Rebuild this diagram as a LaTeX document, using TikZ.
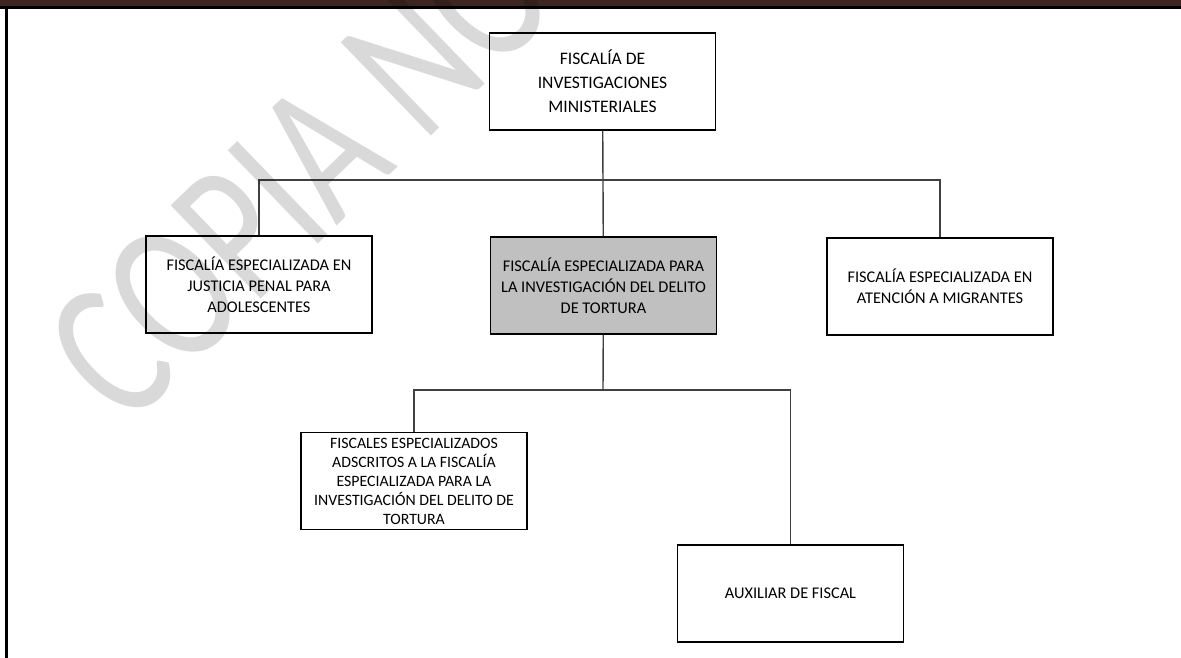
\documentclass[tikz,border=0pt]{standalone}
\usepackage{fontspec}
\setmainfont{Carlito}
\usetikzlibrary{positioning}
\definecolor{BarBrown}{RGB}{61,38,32}
\definecolor{BoxGray}{RGB}{192,192,192}
\definecolor{LineGray}{RGB}{64,64,64}

\tikzset{
  orgbox/.style={draw=black, line width=0.8pt, fill=white, minimum width=4.52cm,
    minimum height=1.94cm, align=center, font=\fontsize{9.3}{11.9}\selectfont,
    inner sep=2pt},
  link/.style={draw=LineGray, line width=0.8pt}
}

\begin{document}
\begin{tikzpicture}[x=0.02cm,y=-0.02cm]
  \useasboundingbox (0,0) rectangle (1181,658);
  % frame
  \fill[BarBrown] (0,0) rectangle (1181,7);
  \draw[black, line width=1.2pt] (0,7.5) -- (1181,7.5);
  \draw[black, line width=1.4pt] (6.5,7.5) -- (6.5,658);

  % boxes
  \node[orgbox, font=\fontsize{10}{13.6}\selectfont] (fim) at (602.5,81.5)
    {FISCALÍA DE\\INVESTIGACIONES\\MINISTERIALES};
  \node[orgbox] (jpa) at (259,284.5)
    {FISCALÍA ESPECIALIZADA EN\\JUSTICIA PENAL PARA\\ADOLESCENTES};
  \node[orgbox, fill=BoxGray] (tor) at (603.5,285.5)
    {FISCALÍA ESPECIALIZADA PARA\\LA INVESTIGACIÓN DEL DELITO\\DE TORTURA};
  \node[orgbox] (mig) at (940,286.5)
    {FISCALÍA ESPECIALIZADA EN\\ATENCIÓN A MIGRANTES};
  \node[orgbox, font=\fontsize{9}{10.8}\selectfont] (fis) at (414,481)
    {FISCALES ESPECIALIZADOS\\ADSCRITOS A LA FISCALÍA\\ESPECIALIZADA PARA LA\\INVESTIGACIÓN DEL DELITO DE\\TORTURA};
  \node[orgbox] (aux) at (790.5,593.5) {AUXILIAR DE FISCAL};

  % lines
  \coordinate (bus1) at (603,180);
  \coordinate (bus2) at (603,390);
  \draw[link] (fim) -- (tor);
  \draw[link] (jpa.north) |- (bus1) -| (mig.north);
  \draw[link] (tor) -- (bus2);
  \draw[link] (fis.north) |- (bus2) -| (aux.north);

  % watermark
  \begin{scope}
    \clip (0,0) rectangle (1181,658);
    \node[anchor=base west, rotate=44, text=black, text opacity=0.15,
      font=\fontsize{115}{115}\selectfont, inner sep=0pt] (wm) at (126,430)
      {\scalebox{0.74}[1]{COPIA NO CONTROLADA}};
  \end{scope}
\end{tikzpicture}
\end{document}
